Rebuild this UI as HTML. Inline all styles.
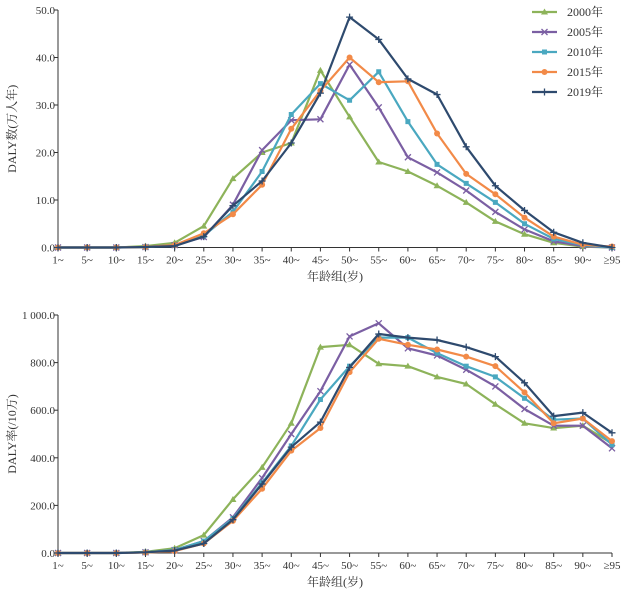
<!DOCTYPE html>
<html><head><meta charset="utf-8"><style>
html,body{margin:0;padding:0;background:#fff}
svg text{font-family:"Liberation Serif","Noto Serif CJK SC",serif;fill:#333}
</style></head><body>
<svg id="c" width="625" height="593" xmlns="http://www.w3.org/2000/svg"></svg>
<script>
const categories=["1~","5~","10~","15~","20~","25~","30~","35~","40~","45~","50~","55~","60~","65~","70~","75~","80~","85~","90~","≥95"];
const seriesNames=["2000年","2005年","2010年","2015年","2019年"];
const count2000=[0,0,0,0.3,1,4.5,14.5,20,22,37.3,27.5,18,16,13,9.5,5.5,2.8,1,0.2,0];
const count2005=[0,0,0,0.1,0.5,2.2,9,20.5,26.8,27,38.5,29.5,19,15.8,12,7.5,3.8,1.3,0.3,0];
const count2010=[0,0,0,0.1,0.5,2.5,7.5,16,28,34.5,31,37,26.5,17.5,13.5,9.5,5,1.8,0.5,0];
const count2015=[0,0,0,0.1,0.5,3,7,13.2,25,33,40,34.8,35,24,15.5,11.2,6.3,2.3,0.6,0.2];
const count2019=[0,0,0,0.1,0.3,2.3,8.8,14,22,32.5,48.5,43.8,35.5,32.2,21.2,13,7.8,3.2,1,0];
const rate2000=[0,0,0,5,20,75,225,360,545,865,875,795,785,740,710,625,545,525,535,460];
const rate2005=[0,0,0,3,12,50,150,315,500,680,910,965,860,830,770,700,605,535,535,440];
const rate2010=[0,0,0,3,12,50,145,295,450,645,785,905,905,840,785,740,650,560,565,455];
const rate2015=[0,0,0,2,8,40,135,270,430,525,760,900,875,855,825,785,675,545,565,470];
const rate2019=[0,0,0,3,10,40,140,290,445,550,780,920,905,895,865,825,715,575,590,505];
const countTicks=[0,10,20,30,40,50];
const countTickLabels=["0.0","10.0","20.0","30.0","40.0","50.0"];
const rateTicks=[0,200,400,600,800,1000];
const rateTickLabels=["0.0","200.0","400.0","600.0","800.0","1 000.0"];

const colors=["#8db35a","#7b5fa3","#4aa8c0","#f28a48","#2e4a6e"];
const markers=["tri","x","sq","circ","plus"];
const NS="http://www.w3.org/2000/svg";
const svg=document.getElementById("c");
function el(t,a,p){const e=document.createElementNS(NS,t);for(const k in a)e.setAttribute(k,a[k]);(p||svg).appendChild(e);return e;}
const x0=58,x1=612;
function xs(i){return x0+(x1-x0)*i/(categories.length-1);}
function marker(g,type,x,y,c){
  let m;
  if(type==="tri")m=el("polygon",{points:`${x},${y-3.5} ${x-3.5},${y+2.5} ${x+3.5},${y+2.5}`,fill:c},g);
  else if(type==="sq")m=el("rect",{x:x-2.5,y:y-2.5,width:5,height:5,fill:c},g);
  else if(type==="circ")m=el("circle",{cx:x,cy:y,r:3,fill:c},g);
  else if(type==="x")m=el("path",{d:`M${x-3},${y-3}L${x+3},${y+3}M${x-3},${y+3}L${x+3},${y-3}`,stroke:c,"stroke-width":1.3},g);
  else m=el("path",{d:`M${x-3.5},${y}L${x+3.5},${y}M${x},${y-3.5}L${x},${y+3.5}`,stroke:c,"stroke-width":1.3},g);
  
  
}
function chart(name,top,bottom,maxV,ticks,labels,series,ytitle){
  const g=el("g",{});
  
  
  const ys=v=>bottom-(bottom-top)*v/maxV;
  const ax=el("path",{d:`M${x0},${top}L${x0},${bottom}L${x1},${bottom}`,stroke:"#333",fill:"none","stroke-width":1},g);
  
  
  ticks.forEach((t,i)=>{
    el("line",{x1:x0-4,x2:x0,y1:ys(t),y2:ys(t),stroke:"#333"},g);
    const tx=el("text",{x:x0-3,y:ys(t)+4,"text-anchor":"end","font-size":11},g);
    tx.textContent=labels[i];
    
    
  });
  categories.forEach((c,i)=>{
    el("line",{x1:xs(i),x2:xs(i),y1:bottom,y2:bottom+4,stroke:"#333"},g);
    const tx=el("text",{x:xs(i),y:bottom+16,"text-anchor":"middle","font-size":11},g);
    tx.textContent=c;
    
    
  });
  const xt=el("text",{x:335,y:bottom+33,"text-anchor":"middle","font-size":12},g);
  xt.textContent="年龄组(岁)";
  
  
  const cy=(top+bottom)/2;
  const yt=el("text",{x:16,y:cy,"text-anchor":"middle","font-size":12,transform:`rotate(-90 16 ${cy})`},g);
  yt.textContent=ytitle;
  
  
  series.forEach((s,k)=>{
    const sg=el("g",{},g);
    
    
    const d=s.map((v,i)=>(i?"L":"M")+xs(i).toFixed(1)+","+ys(v).toFixed(1)).join("");
    el("path",{d,stroke:colors[k],fill:"none","stroke-width":2.2,"stroke-linejoin":"round"},sg);
    s.forEach((v,i)=>marker(sg,markers[k],xs(i),ys(v),colors[k]));
  });
}
chart("count-chart",10,247.5,50,countTicks,countTickLabels,[count2000,count2005,count2010,count2015,count2019],"DALY数(万人年)");
chart("rate-chart",315,553,1000,rateTicks,rateTickLabels,[rate2000,rate2005,rate2010,rate2015,rate2019],"DALY率(/10万)");
const lg=el("g",{});


seriesNames.forEach((n,k)=>{
  const y=12+k*20;
  const e=el("g",{},lg);
  
  
  el("line",{x1:532,x2:557,y1:y,y2:y,stroke:colors[k],"stroke-width":2.2},e);
  marker(e,markers[k],544.5,y,colors[k]);
  const t=el("text",{x:567,y:y+4,"font-size":12},e);
  t.textContent=n;
});
</script>
</body></html>
